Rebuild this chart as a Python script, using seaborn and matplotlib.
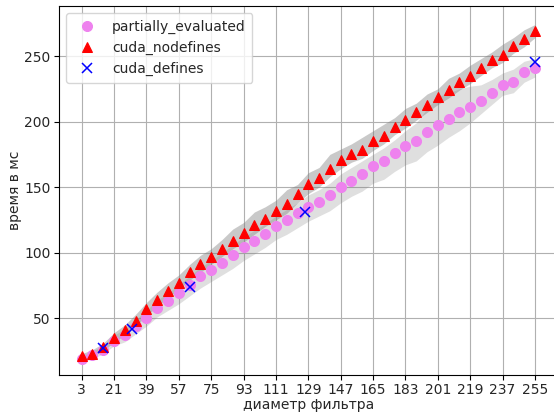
import numpy as np
import pandas as pd
import matplotlib
matplotlib.use("Agg")
import matplotlib.pyplot as plt
import seaborn as sns

diameters = [3, 9, 15, 21, 27, 33, 39, 45, 51, 57, 63, 69, 75, 81, 87, 93, 99, 105,
             111, 117, 123, 129, 135, 141, 147, 153, 159, 165, 171, 177, 183, 189,
             195, 201, 207, 213, 219, 225, 231, 237, 243, 249, 255]

partially_evaluated = [19, 22, 26, 33, 37, 44, 50, 58, 63, 69, 75, 82, 87, 92, 98, 104,
                       109, 114, 120, 125, 130, 135, 139, 144, 150, 155, 160, 166, 170,
                       176, 181, 185, 192, 197, 202, 207, 211, 216, 222, 228, 230, 238, 241]
pe_err_up = [2, 3, 3, 4, 5, 5, 6, 6, 6, 7, 7, 7, 7, 8, 8, 8, 8, 8, 8, 8, 8, 9, 9, 9, 10,
             10, 10, 9, 10, 10, 12, 14, 18, 22, 20, 18, 16, 12, 10, 9, 10, 8, 7]
pe_err_down = [2, 3, 3, 4, 5, 6, 6, 7, 7, 8, 8, 9, 9, 9, 10, 10, 10, 10, 10, 11, 11, 11,
               11, 12, 12, 12, 13, 13, 14, 14, 14, 15, 15, 15, 14, 14, 12, 10, 9, 8, 8, 8, 7]

cuda_nodefines = [21, 23, 28, 35, 41, 48, 57, 64, 71, 77, 85, 91, 97, 103, 109, 115, 121,
                  126, 132, 137, 145, 152, 157, 164, 171, 175, 178, 185, 189, 196, 201,
                  207, 213, 219, 224, 230, 235, 241, 247, 251, 258, 263, 269]
nd_err_up = [2, 3, 3, 4, 4, 5, 5, 6, 6, 6, 6, 7, 6, 7, 9, 8, 10, 9, 8, 11, 7, 9, 8, 11, 8, 8,
             10, 8, 9, 7, 9, 7, 8, 6, 9, 7, 8, 7, 6, 8, 6, 7, 5]
nd_err_down = [2, 2, 3, 3, 4, 4, 5, 5, 5, 5, 6, 6, 6, 6, 6, 7, 7, 6, 7, 7, 7, 7, 7, 6, 7,
               6, 6, 7, 6, 6, 6, 6, 6, 6, 6, 6, 6, 6, 6, 6, 6, 6, 5]

defines_diameters = [15, 31, 63, 127, 255]
cuda_defines = [27.5, 41.5, 73.5, 131, 245.5]

xticks = [3, 21, 39, 57, 75, 93, 111, 129, 147, 165, 183, 201, 219, 237, 255]

df = pd.DataFrame({"d": diameters, "pe": partially_evaluated, "nd": cuda_nodefines})
df["pe_lo"] = df["pe"] - np.array(pe_err_down)
df["pe_hi"] = df["pe"] + np.array(pe_err_up)
df["nd_lo"] = df["nd"] - np.array(nd_err_down)
df["nd_hi"] = df["nd"] + np.array(nd_err_up)
dfd = pd.DataFrame({"d": defines_diameters, "v": cuda_defines})

sns.set_style("ticks")
plt.rcParams["font.family"] = ["DejaVu Sans"]

fig = plt.figure(figsize=(5.54, 4.15), dpi=100)
ax = fig.add_axes([0.1065, 0.0964, 0.900, 0.889])

ax.fill_between(df["d"], df["pe_lo"], df["pe_hi"], color="gray", alpha=0.25, linewidth=0, zorder=1)
ax.fill_between(df["d"], df["nd_lo"], df["nd_hi"], color="gray", alpha=0.42, linewidth=0, zorder=1)

sns.lineplot(data=df, x="d", y="pe", ax=ax, marker="o", linestyle="", markersize=7.2,
             color="violet", markeredgecolor="violet", label="partially_evaluated", zorder=3)
sns.lineplot(data=df, x="d", y="nd", ax=ax, marker="^", linestyle="", markersize=7.5,
             color="red", markeredgecolor="red", label="cuda_nodefines", zorder=4)
sns.lineplot(data=dfd, x="d", y="v", ax=ax, marker="x", linestyle="", markersize=7,
             color="blue", markeredgecolor="blue", markeredgewidth=1.1,
             label="cuda_defines", zorder=5)

ax.set_xticks(xticks)
ax.set_xlim(-9.6, 267.6)
ax.set_ylim(6.7, 288.1)
ax.set_yticks([50, 100, 150, 200, 250])
ax.grid(True, color="#b0b0b0", linewidth=0.8)
ax.set_axisbelow(True)
for s in ax.spines.values():
    s.set_color("black")
    s.set_linewidth(0.8)
ax.tick_params(axis="both", labelsize=10, length=3.5, width=0.8, color="black", pad=2.5)
ax.set_xlabel("диаметр фильтра", fontsize=10, labelpad=0.5)
ax.set_ylabel("время в мс", fontsize=10, labelpad=2)
ax.legend(loc="upper left", fontsize=10, frameon=True, borderpad=0.5)

fig.savefig("out.png", dpi=100)
